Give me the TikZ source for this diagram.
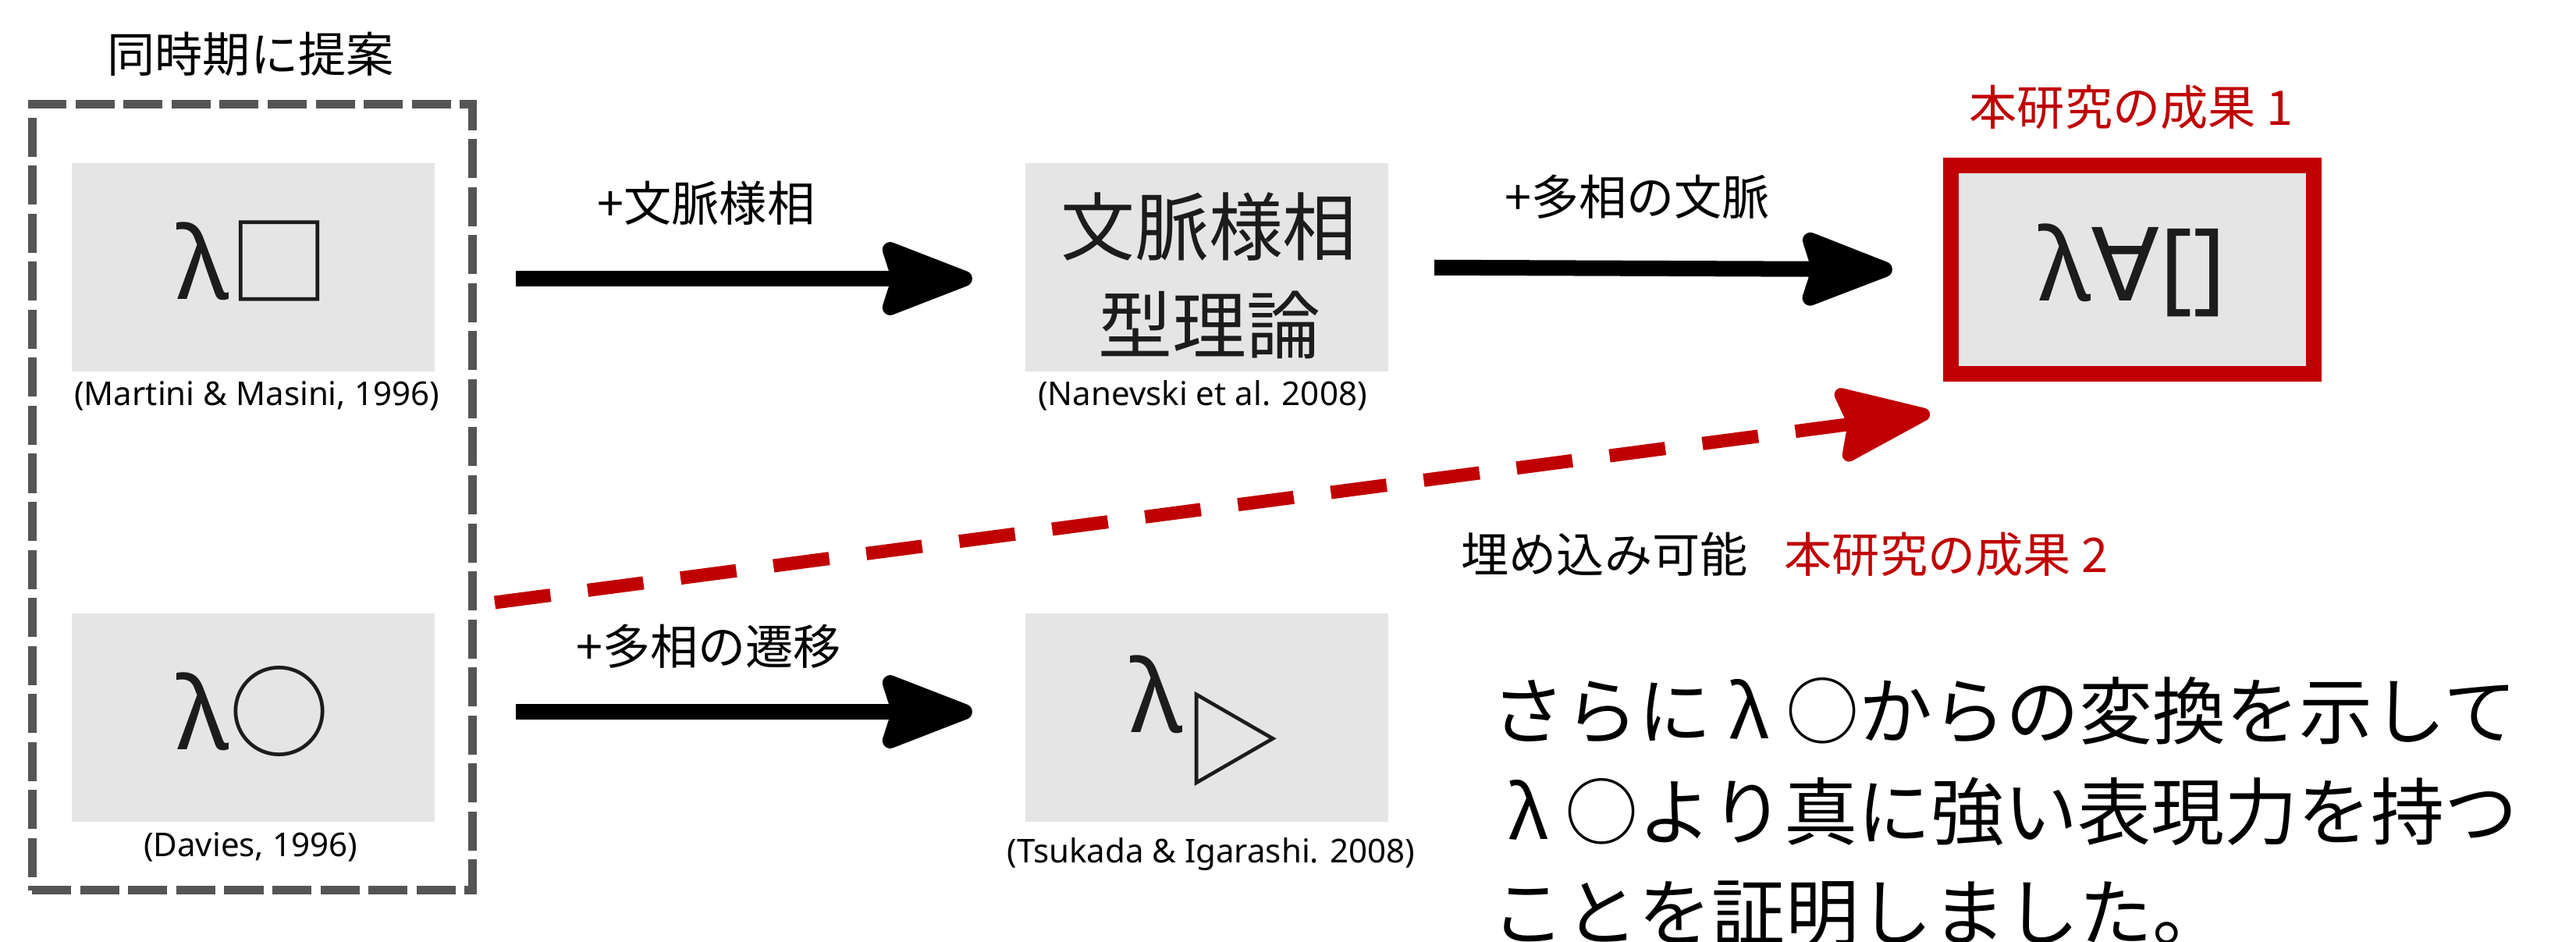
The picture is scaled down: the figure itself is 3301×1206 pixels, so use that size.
\documentclass[tikz,border=0pt]{standalone}
\usepackage{fontspec}
\setmainfont{Noto Sans}
\newfontfamily\jp{Noto Sans CJK JP}
\newfontfamily\dejavu{DejaVu Sans}
\newcommand{\fwlam}{\makebox[1em][c]{λ}}
\usetikzlibrary{arrows.meta}
\definecolor{myred}{HTML}{C00000}
\definecolor{boxgray}{HTML}{E5E5E5}
\definecolor{dashgray}{HTML}{555555}
\definecolor{ink}{HTML}{1C1C1C}
\begin{document}
\begin{tikzpicture}[x=0.01cm,y=-0.01cm,
  gbox/.style={fill=boxgray, draw=none, minimum width=4.65cm, minimum height=2.67cm, inner sep=0pt, outer sep=0pt},
  redbox/.style={gbox, draw=myred, line width=0.2cm},
  grpbox/.style={draw=dashgray, line width=0.11cm, dash pattern=on 0.5cm off 0.115cm, minimum width=5.64cm, minimum height=10.07cm, inner sep=0pt, outer sep=0pt},
  lbl/.style={font=\jp\fontsize{17.4pt}{20pt}\selectfont, inner sep=0pt},
  cite/.style={font=\fontsize{11.95pt}{14pt}\selectfont, anchor=base, inner sep=0pt},
  symb/.style={font=\fontsize{36.7pt}{40pt}\selectfont, text=ink, anchor=base, inner sep=0pt},
  kanji/.style={font=\jp\fontsize{27pt}{32pt}\selectfont, text=ink, anchor=base, inner sep=0pt},
  big/.style={font=\jp\fontsize{26.75pt}{32pt}\selectfont, anchor=base west, inner sep=0pt},
  tipstyle/.style={-{Stealth[length=1.37cm, width=1.03cm, inset=0.15cm, round]}},
  bigarrow/.style={line width=0.2cm, tipstyle},
  redarrow/.style={draw=myred, line width=0.17cm, dash pattern=on 0.72cm off 0.48cm, tipstyle},
]
\useasboundingbox (0,0) rectangle (3301,1206);

% group frame and title
\node[grpbox] (grp) at (323.5,637) {};
\node[lbl] (title) at (321,69) {同時期に提案};

% boxes
\node[gbox] (lbox) at (324.5,342.5) {};
\node[gbox] (cbox) at (1546.5,342.5) {};
\node[redbox] (rbox) at (2732.5,345.5) {};
\node[gbox] (obox) at (324.5,919.5) {};
\node[gbox] (tbox) at (1546.5,919.5) {};

% box contents
\node[symb] (ls) at (324.5,383) {λ{\jp □}};
\node[kanji] (ct1) at (1549,326) {文脈様相};
\node[kanji] (ct2) at (1550,452) {型理論};
\node[symb] (lf) at (2732.5,385) {λ{\dejavu ∀}[]};
\node[symb] (lo) at (324.5,960) {λ{\jp ○}};
\node[symb] (lt) at (1546.5,938) {λ{\jp\raisebox{-0.57cm}{▷}}};

% citations
\node[cite] (c1) at (329,519) {(Martini \& Masini, 1996)};
\node[cite] (c2) at (1541,519) {(Nanevski et al. 2008)};
\node[cite] (c3) at (321,1097) {(Davies, 1996)};
\node[cite] (c4) at (1552,1105) {(Tsukada \& Igarashi. 2008)};

% labels
\node[lbl] (l1) at (905,260) {+文脈様相};
\node[lbl] (l2) at (2098,252) {+多相の文脈};
\node[lbl] (l3) at (908,828) {+多相の遷移};
\node[lbl] (l4) at (2056,710) {埋め込み可能};
\node[lbl, text=myred] (l5) at (2494,710) {本研究の成果 2};
\node[lbl, text=myred] (l6) at (2731,137) {本研究の成果 1};

% arrows
\draw[bigarrow, shorten <=1.04cm, shorten >=0.68cm] ([yshift=-0.145cm]lbox.east) -- ([yshift=-0.145cm]cbox.west);
\draw[bigarrow, shorten <=0.59cm, shorten >=0.75cm] (cbox.east) -- (rbox.west);
\draw[bigarrow, shorten <=1.04cm, shorten >=0.68cm] ([yshift=0.075cm]obox.east) -- ([yshift=0.075cm]tbox.west);

\coordinate (rs) at (634,772);
\coordinate (re) at (2473,530);
\draw[redarrow] (rs) -- (re);

% explanation text
\node[big] (t1) at (1911,946) {さらに\fwlam ○からの変換を示して};
\node[big] (t2) at (1911,1075) {\fwlam ○より真に強い表現力を持つ};
\node[big] (t3) at (1911,1204) {ことを証明しました。};
\end{tikzpicture}
\end{document}
